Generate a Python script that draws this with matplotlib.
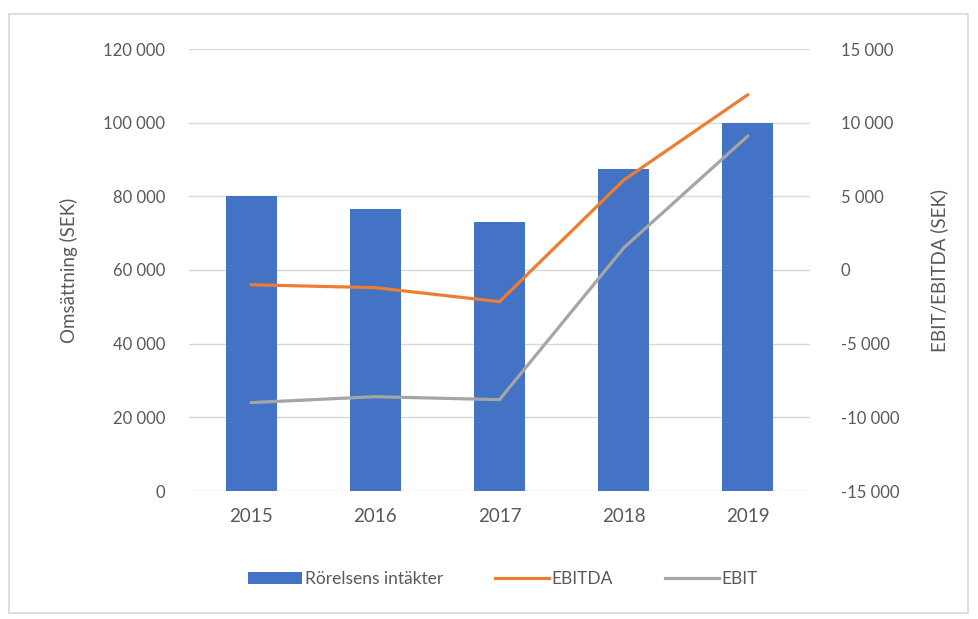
import matplotlib
matplotlib.use("Agg")
import matplotlib.pyplot as plt
from matplotlib.patches import Patch, Rectangle
from matplotlib.lines import Line2D
from matplotlib.ticker import FuncFormatter, MultipleLocator

plt.rcParams['font.family'] = ['Lato', 'DejaVu Sans']

years = ["2015", "2016", "2017", "2018", "2019"]
intakter = [80200, 76600, 72900, 87400, 99800]
ebitda = [-1000, -1200, -2150, 6100, 11900]
ebit = [-9000, -8600, -8800, 1500, 9100]

blue = "#4472C4"
orange = "#ED7D31"
gray = "#A5A5A5"
txt = "#595959"
grid = "#D9D9D9"

fig = plt.figure(figsize=(9.79, 6.19), dpi=100)
ax = fig.add_axes([189/979, 1-491/619, (810-189)/979, (491-49)/619])
ax2 = ax.twinx()

x = list(range(len(years)))
ax.bar(x, intakter, width=0.41, color=blue, zorder=2)
ax2.plot(x, ebitda, color=orange, lw=2.3, solid_capstyle='round', zorder=3)
ax2.plot(x, ebit, color=gray, lw=2.3, solid_capstyle='round', zorder=3)

ax.set_xlim(-0.5, len(years) - 0.5)
ax.set_ylim(0, 120000)
ax2.set_ylim(-15000, 15000)
ax.yaxis.set_major_locator(MultipleLocator(20000))
ax2.yaxis.set_major_locator(MultipleLocator(5000))

fmt = FuncFormatter(lambda v, p: f"{int(v):,}".replace(",", " "))
ax.yaxis.set_major_formatter(fmt)
ax2.yaxis.set_major_formatter(fmt)

ax.set_xticks(x)
ax.set_xticklabels(years)

ax.grid(axis='y', color=grid, lw=1.0, zorder=0)
ax.set_axisbelow(True)
for a in (ax, ax2):
    for s in a.spines.values():
        s.set_visible(False)
    a.tick_params(length=0, colors=txt, labelsize=12)
ax.tick_params(axis='y', pad=17)
ax2.tick_params(axis='y', pad=22)
ax.tick_params(axis='x', pad=12, labelsize=13.5)

ax.set_ylabel("Omsättning (SEK)", color=txt, fontsize=13.5)
ax.yaxis.set_label_coords((78-189)/621, 0.5)
ax2.set_ylabel("EBIT/EBITDA (SEK)", color=txt, fontsize=13.5, rotation=90)
ax2.yaxis.set_label_coords((930-189)/621, 0.5)

handles = [Patch(facecolor=blue, edgecolor='none'),
           Line2D([], [], color=orange, lw=2.3),
           Line2D([], [], color=gray, lw=2.3)]
labels = ["Rörelsens intäkter", "EBITDA", "EBIT"]
leg = fig.legend(handles, labels, loc='center', bbox_to_anchor=(503/979, 1-579/619),
                 ncol=3, frameon=False, fontsize=12.5, handlelength=3.1,
                 handleheight=0.75, handletextpad=0.15, columnspacing=3.0)
for t in leg.get_texts():
    t.set_color(txt)

fig.patches.append(Rectangle((9/979, 1-613/619), (968-9)/979, (613-14)/619,
                             transform=fig.transFigure, fill=False,
                             edgecolor=grid, lw=1.2))

fig.savefig("out.png", dpi=100, facecolor="white")
